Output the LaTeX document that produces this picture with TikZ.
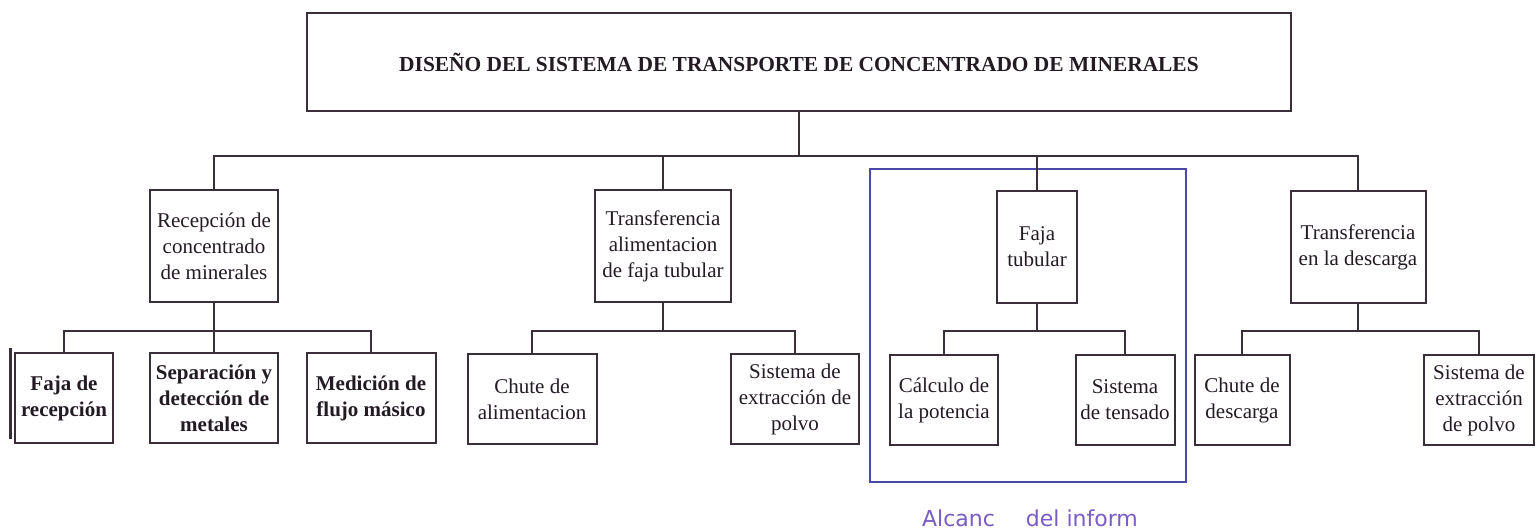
\documentclass[tikz,border=0pt]{standalone}
\usepackage{fontspec}
\setmainfont{Liberation Serif}
\newfontfamily\alcfont{DejaVu Sans}
\definecolor{ink}{HTML}{3A2E3A}
\definecolor{txt}{HTML}{241A24}
\definecolor{scope}{HTML}{4A48A8}
\definecolor{alc}{HTML}{7A5CC4}
\begin{document}
\begin{tikzpicture}[x=0.5pt,y=-0.5pt,
  box/.style={draw=ink, line width=1pt, align=center, inner sep=0pt, text=txt,
    font=\fontsize{10.5}{13}\selectfont},
  lvtwo/.style={box, minimum height=56pt},
  lvthree/.style={box, minimum height=45pt},
  conn/.style={draw=ink, line width=0.9pt}]
\useasboundingbox (0,0) rectangle (1536,531);
\fill[white] (0,0) rectangle (1536,531);

% top
\node[box, minimum width=492pt, minimum height=49pt, font=\bfseries\fontsize{10.7}{12}\selectfont] (top) at (799,62)
  {DISEÑO DEL SISTEMA DE TRANSPORTE DE CONCENTRADO DE MINERALES};

% scope frame
\draw[scope, line width=0.8pt] (870,169) rectangle (1186,482);
\node[font=\alcfont\fontsize{11}{12}\selectfont, text=alc, inner sep=0pt, anchor=base] (alcance) at (1030,526)
  {Alcanc \hspace{12pt}del inform};

% level 2
\node[lvtwo, minimum width=64pt] (r1) at (214,246) {Recepción de\\concentrado\\de minerales};
\node[lvtwo, minimum width=68pt] (r2) at (663,246) {Transferencia\\alimentacion\\de faja tubular};
\node[lvtwo, minimum width=40pt] (r3) at (1037,247) {Faja\\tubular};
\node[lvtwo, minimum width=67.5pt] (r4) at (1358,247) {Transferencia\\en la descarga};

% level 3
\node[lvthree, minimum width=49pt, font=\bfseries\fontsize{10.5}{13}\selectfont] (a) at (64,398) {Faja de\\recepción};
\node[lvthree, minimum width=64pt, font=\bfseries\fontsize{10.5}{13}\selectfont] (b) at (214,398) {Separación y\\detección de\\metales};
\node[lvthree, minimum width=64.5pt, font=\bfseries\fontsize{10.5}{13}\selectfont] (c) at (371,398) {Medición de\\flujo másico};
\node[lvthree, minimum width=64.5pt] (d) at (532,399) {Chute de\\alimentacion};
\node[lvthree, minimum width=64pt] (e) at (795,399) {Sistema de\\extracción de\\polvo};
\node[lvthree, minimum width=54pt] (f) at (944,400) {Cálculo de\\la potencia};
\node[lvthree, minimum width=49.5pt] (g) at (1125,400) {Sistema\\de tensado};
\node[lvthree, minimum width=47.5pt] (h) at (1242,400) {Chute de\\descarga};
\node[lvthree, minimum width=55pt] (i) at (1479,400) {Sistema de\\extracción\\de polvo};

% stray edge at far left
\draw[ink, line width=1.5pt] (10,348) -- (10,439);

% bus coordinates
\coordinate (busone) at (0,156);
\coordinate (busthree) at (0,331);

% level 1 connectors
\draw[conn] (top.south) -- (top.south |- busone);
\draw[conn] (r1.north) -- (r1.north |- busone) -- (r4.north |- busone) -- (r4.north);
\draw[conn] (r2.north) -- (r2.north |- busone);
\draw[conn] (r3.north) -- (r3.north |- busone);

% group 1
\draw[conn] (r1.south) -- (r1.south |- busthree);
\draw[conn] (a.north) -- (a.north |- busthree) -- (c.north |- busthree) -- (c.north);
\draw[conn] (b.north) -- (b.north |- busthree);
% group 2
\draw[conn] (r2.south) -- (r2.south |- busthree);
\draw[conn] (d.north) -- (d.north |- busthree) -- (e.north |- busthree) -- (e.north);
% group 3
\draw[conn] (r3.south) -- (r3.south |- busthree);
\draw[conn] (f.north) -- (f.north |- busthree) -- (g.north |- busthree) -- (g.north);
% group 4
\draw[conn] (r4.south) -- (r4.south |- busthree);
\draw[conn] (h.north) -- (h.north |- busthree) -- (i.north |- busthree) -- (i.north);
\end{tikzpicture}
\end{document}
